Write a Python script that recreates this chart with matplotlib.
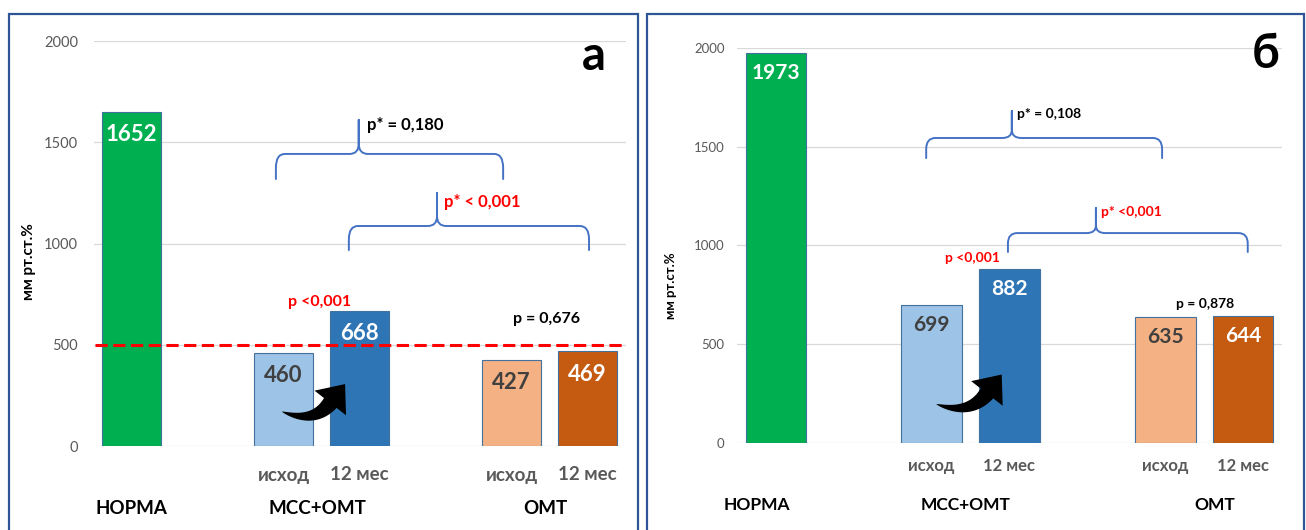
import matplotlib
matplotlib.use("Agg")
import matplotlib.pyplot as plt
import numpy as np
from matplotlib.path import Path
from matplotlib.patches import PathPatch, Polygon, Rectangle
from matplotlib.transforms import IdentityTransform

plt.rcParams['font.family'] = ['Lato', 'Noto Sans', 'DejaVu Sans']

# ---- data -------------------------------------------------------------
bar_labels = ["НОРМА", "исход", "12 мес", "исход", "12 мес"]
group_labels = ["НОРМА", "МСС+ОМТ", "ОМТ"]
positions = [0, 2, 3, 5, 6]
values_a = [1652, 460, 668, 427, 469]
values_b = [1973, 699, 882, 635, 644]
yticks = [0, 500, 1000, 1500, 2000]
threshold_a = 500

bar_colors = ["#00B050", "#9DC3E6", "#2E75B6", "#F4B183", "#C55A11"]
value_colors = ["white", "#404040", "white", "#404040", "white"]

p_within_a = ["p <0,001", "p = 0,676"]
p_between_a = ["p* = 0,180", "p* < 0,001"]
p_within_b = ["p <0,001", "p = 0,878"]
p_between_b = ["p* = 0,108", "p* <0,001"]
p_colors = ["red", "black"]
p_between_colors = ["black", "red"]

W, H = 1306, 530
fig = plt.figure(figsize=(W / 100, H / 100), dpi=100)
fig.patch.set_facecolor("white")

BRACE = "#4472C4"
GREY = "#595959"


def draw_brace(ax, x0, x1, xp, yb, yh, ypk, rx=0.12):
    """Horizontal curly brace opening downward with its tip at (xp, ypk)."""
    ry = (yh - yb) * 0.55
    cusp = (ypk - yh) * 0.3
    verts = [(x0, yb), (x0, yh - ry), (x0, yh), (x0 + rx, yh),
             (xp - rx, yh), (xp, yh), (xp, yh + cusp), (xp, ypk),
             (xp, ypk), (xp, yh + cusp), (xp, yh), (xp + rx, yh),
             (x1 - rx, yh), (x1, yh), (x1, yh - ry), (x1, yb)]
    codes = [Path.MOVETO, Path.LINETO, Path.CURVE3, Path.CURVE3,
             Path.LINETO, Path.CURVE3, Path.CURVE3, Path.LINETO,
             Path.MOVETO, Path.LINETO, Path.CURVE3, Path.CURVE3,
             Path.LINETO, Path.CURVE3, Path.CURVE3, Path.LINETO]
    ax.add_patch(PathPatch(Path(verts, codes), fill=False, edgecolor=BRACE,
                           lw=1.4, capstyle='round', joinstyle='round',
                           clip_on=False, zorder=4))


def curved_arrow(ax, tail, tip, angle=52, head_len=24, head_hw=20, body_w=16):
    """Thick curved block arrow with a tapered tail, in pixel units."""
    T = ax.transData.transform(tail)
    Hd = ax.transData.transform(tip)
    d = np.array([np.cos(np.radians(angle)), np.sin(np.radians(angle))])
    B = Hd - head_len * d
    C = B - 0.55 * np.linalg.norm(B - T) * d
    t = np.linspace(0, 1, 60)[:, None]
    curve = (1 - t) ** 2 * T + 2 * (1 - t) * t * C + t ** 2 * B
    der = 2 * (1 - t) * (C - T) + 2 * t * (B - C)
    nrm = np.column_stack([-der[:, 1], der[:, 0]])
    nrm /= np.linalg.norm(nrm, axis=1)[:, None]
    w = body_w / 2 * t ** 0.7
    upper = curve + nrm * w
    lower = curve - nrm * w
    n_end = nrm[-1]
    head = np.array([B + n_end * head_hw, Hd, B - n_end * head_hw])
    pts = np.vstack([upper, head, lower[::-1]])
    ax.add_patch(Polygon(pts, closed=True, facecolor="black", edgecolor="none",
                         transform=IdentityTransform(), zorder=5))


def panel(rect, values, fs):
    ax = fig.add_axes(rect)
    ax.set_xlim(-0.5, 6.5)
    ax.set_ylim(0, 2000)
    for s in ax.spines.values():
        s.set_visible(False)
    ax.set_yticks(yticks)
    ax.yaxis.grid(True, color="#D9D9D9", lw=0.9)
    ax.set_axisbelow(True)
    ax.tick_params(axis="y", length=0, pad=fs["tickpad"], labelsize=fs["tick"],
                   labelcolor=GREY)
    ax.set_xticks([])
    ax.bar(positions, values, width=0.78, color=bar_colors,
           edgecolor="#41719C", lw=0.8, zorder=2)
    for x, v, c in zip(positions, values, value_colors):
        ax.annotate(str(v), (x, v), xytext=(0, -fs["voff"]),
                    textcoords="offset pixels", ha="center", va="center",
                    fontsize=fs["value"], fontweight="bold", color=c, zorder=6)
    for x, lab in zip(positions[1:], bar_labels[1:]):
        ax.annotate(lab, (x, 0), xycoords=("data", "axes fraction"),
                    xytext=(0, -fs["cat_off"]), textcoords="offset pixels",
                    ha="center", va="center", fontsize=fs["cat"],
                    fontweight="bold", color=GREY)
    for x, lab in zip(fs["group_x"], group_labels):
        ax.annotate(lab, (x, 0), xycoords=("data", "axes fraction"),
                    xytext=(0, -62), textcoords="offset pixels",
                    ha="center", va="center", fontsize=fs["group"],
                    fontweight="bold", color="black")
    ax.set_ylabel("мм рт.ст.%", fontsize=fs["ylab"], fontweight="bold")
    ax.yaxis.set_label_coords(*fs["ylab_xy"])
    return ax


# ---- panel а ----------------------------------------------------------
fs_a = dict(tick=10.5, tickpad=11, value=16, voff=23, cat=13.5, cat_off=29,
            group=13.5, group_x=[0, 2.45, 5.45], ylab=11,
            ylab_xy=(-0.108, 0.455))
ax_a = panel([93.5 / W, 84 / H, 532 / W, 404.8 / H], values_a, fs_a)
ax_a.axhline(threshold_a, xmin=0.003, xmax=0.993, color="#FF0000", lw=2.2,
             ls=(0, (4, 1.8)), zorder=3)
draw_brace(ax_a, 1.9, 4.89, 2.99, 1319, 1443, 1611)
draw_brace(ax_a, 2.86, 6.02, 4.02, 968, 1087, 1250)
ax_a.text(3.1, 1586, p_between_a[0], fontsize=12, fontweight="bold",
          color=p_between_colors[0], ha="left", va="center")
ax_a.text(4.11, 1205, p_between_a[1], fontsize=12, fontweight="bold",
          color=p_between_colors[1], ha="left", va="center")
ax_a.text(2.47, 711, p_within_a[0], fontsize=11.5, fontweight="bold",
          color=p_colors[0], ha="center", va="center")
ax_a.text(5.46, 627, p_within_a[1], fontsize=11.5, fontweight="bold",
          color=p_colors[1], ha="center", va="center")
curved_arrow(ax_a, (1.98, 170), (2.81, 306))

# ---- panel б ----------------------------------------------------------
fs_b = dict(tick=9.5, tickpad=9, value=15, voff=20, cat=12, cat_off=23,
            group=12.5, group_x=[-0.24, 2.43, 5.63], ylab=9.5,
            ylab_xy=(-0.110, 0.397))
ax_b = panel([737 / W, 87.4 / H, 545 / W, 394.6 / H], values_b, fs_b)
draw_brace(ax_b, 1.93, 4.96, 3.03, 1442, 1544, 1681)
draw_brace(ax_b, 2.98, 6.06, 4.11, 966, 1062, 1189)
ax_b.text(3.1, 1665, p_between_b[0], fontsize=10, fontweight="bold",
          color=p_between_colors[0], ha="left", va="center")
ax_b.text(4.17, 1168, p_between_b[1], fontsize=10, fontweight="bold",
          color=p_between_colors[1], ha="left", va="center")
ax_b.text(2.52, 935, p_within_b[0], fontsize=10, fontweight="bold",
          color=p_colors[0], ha="center", va="center")
ax_b.text(5.51, 702, p_within_b[1], fontsize=10, fontweight="bold",
          color=p_colors[1], ha="center", va="center")
curved_arrow(ax_b, (2.06, 195), (2.9, 345))

# ---- panel frames and letters ----------------------------------------
for x0, x1 in [(9, 638), (647, 1304)]:
    fig.add_artist(Rectangle((x0 / W, -0.1), (x1 - x0) / W, 1.1 - 14 / H,
                             transform=fig.transFigure, fill=False,
                             edgecolor="#2F5597", lw=1.6))
fig.text(594 / W, 1 - 56 / H, "а", fontsize=34, fontweight="bold",
         ha="center", va="center")
fig.text(1266 / W, 1 - 54 / H, "б", fontsize=34, fontweight="bold",
         ha="center", va="center")

fig.savefig("out.png", dpi=100)
